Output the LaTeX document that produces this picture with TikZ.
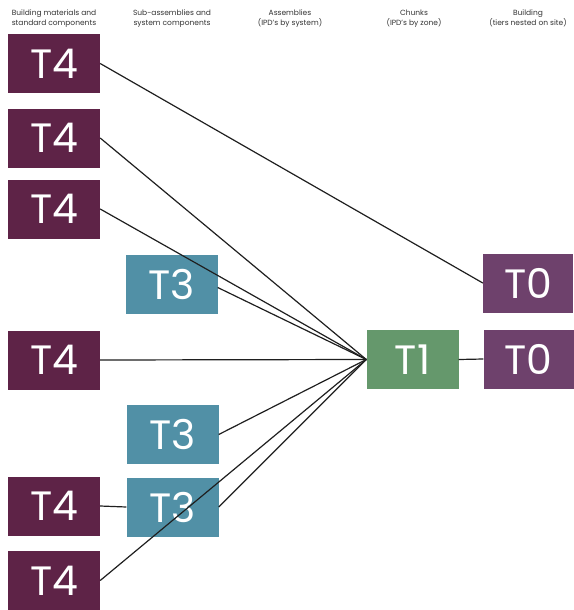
\documentclass[tikz,border=0pt]{standalone}
\usepackage{fontspec}
\setmainfont{Poppins}
\begin{document}
\begin{tikzpicture}[x=1pt,y=-1pt,
  tier/.style={minimum width=92, minimum height=59, inner sep=0, text=white, font=\fontsize{41}{41}\selectfont},
  head/.style={align=center, font=\fontsize{7.5}{10.5}\selectfont, text=black!80},
  link/.style={draw=black!88, line width=1.2pt}]
\definecolor{tfour}{HTML}{5E2347}
\definecolor{tthree}{HTML}{5190A6}
\definecolor{tone}{HTML}{65986C}
\definecolor{tzero}{HTML}{6E416C}
\useasboundingbox (0,0) rectangle (573,610);
% column headings
\node[head] (h4) at (54,18.5) {Building materials and\\standard components};
\node[head] (h3) at (172,18.5) {Sub-assemblies and\\system components};
\node[head] (h2) at (290,18.5) {Assemblies\\(IPD's by system)};
\node[head] (h1) at (414,18.5) {Chunks\\(IPD's by zone)};
\node[head] (h0) at (528,18.5) {Building\\(tiers nested on site)};
% tier 4
\node[tier, fill=tfour] (t4a) at (54,63.5) {T4};
\node[tier, fill=tfour] (t4b) at (54,138) {T4};
\node[tier, fill=tfour] (t4c) at (54,209) {T4};
\node[tier, fill=tfour] (t4d) at (54,360) {T4};
\node[tier, fill=tfour] (t4e) at (54,506) {T4};
\node[tier, fill=tfour] (t4f) at (54,580.5) {T4};
% tier 3
\node[tier, fill=tthree] (t3a) at (171.5,284.5) {T3};
\node[tier, fill=tthree] (t3b) at (172.5,434.5) {T3};
\node[tier, fill=tthree] (t3c) at (172.5,507) {T3};
% tier 1 and 0
\node[tier, fill=tone] (t1) at (412.5,359.5) {T1};
\node[tier, fill=tzero, minimum width=90] (t0a) at (528,283) {T0};
\node[tier, fill=tzero, minimum width=90] (t0b) at (528.5,359) {T0};
% links
\draw[link] (t4a.east) -- (t0a.west);
\foreach \n in {t4b,t4c,t4d,t3b,t3c,t4f}
  \draw[link] (\n.east) -- (t1.west);
\draw[link] ([yshift=-3]t3a.east) -- (t1.west);
\draw[link] (t4e.east) -- (t3c.west);
\draw[link] (t1.east) -- (t0b.west);
\end{tikzpicture}
\end{document}
